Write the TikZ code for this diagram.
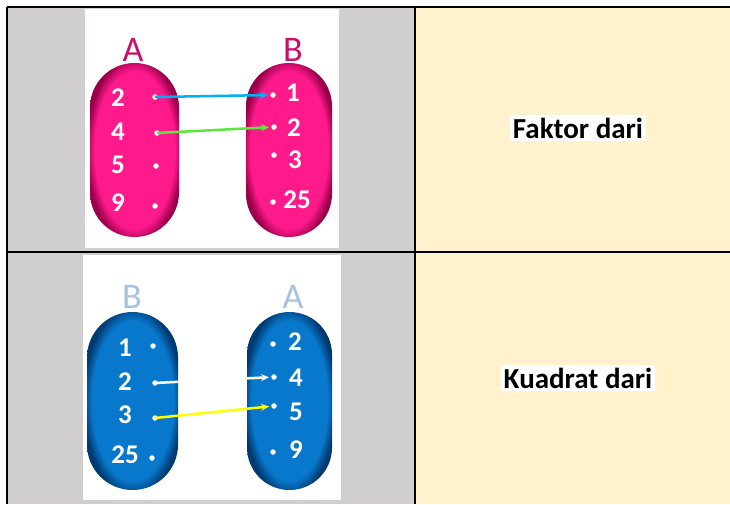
\documentclass[tikz,border=0pt]{standalone}
\usepackage{fontspec}
\setmainfont{Carlito}
\usetikzlibrary{arrows.meta}

\definecolor{cellgray}{HTML}{D0CECE}
\definecolor{cellcream}{HTML}{FFF2CC}
\definecolor{pinkmid}{HTML}{FF1A8C}
\definecolor{pinkedge}{HTML}{9A004A}
\definecolor{pinklabel}{HTML}{C8106A}
\definecolor{bluemid}{HTML}{0878CC}
\definecolor{blueedge}{HTML}{003A70}
\definecolor{bluelabel}{HTML}{A5C2E0}
\definecolor{arrowblue}{HTML}{00B0F0}
\definecolor{arrowgreen}{HTML}{5CE63C}
\definecolor{arrowyellow}{HTML}{FFFF00}

\pgfdeclareradialshading{pinkpill}{\pgfpoint{0bp}{0bp}}{color(0bp)=(pinkmid); color(22.5bp)=(pinkmid); color(27bp)=(pinkedge); color(30bp)=(pinkedge)}
\pgfdeclareradialshading{bluepill}{\pgfpoint{0bp}{0bp}}{color(0bp)=(bluemid); color(22.5bp)=(bluemid); color(27bp)=(blueedge); color(30bp)=(blueedge)}

\begin{document}
\begin{tikzpicture}[x=1pt, y=-1pt,
    num/.style={text=white, font=\fontsize{27}{27}\selectfont\bfseries, inner sep=0pt},
    dot/.style={circle, fill=white, inner sep=0pt, minimum size=5.5pt},
    pill/.style={rectangle, rounded corners=43.5pt, minimum width=87pt, minimum height=176pt},
    setlabel/.style={font=\fontsize{36}{36}\selectfont, inner sep=0pt},
    relation/.style={fill=white, font=\fontsize{29}{29}\selectfont\bfseries, inner sep=3pt},
    link/.style={line width=2.5pt, -{Stealth[length=8pt, width=7pt]}, shorten >=2pt}]

    %--------------------%
    % Parameters
    %--------------------%
    \def\colsep{415}
    \def\rowsep{252}
    \def\linethic{2pt}

    \useasboundingbox (0,0) rectangle (730,504);

    %--------------------%
    % Cells
    %--------------------%
    \fill[cellgray] (7,7) rectangle (\colsep,504);
    \fill[cellcream] (\colsep,7) rectangle (730,504);
    \fill[white] (85,9) rectangle (339,248);
    \fill[white] (83,255) rectangle (341,500);

    \draw[line width=\linethic] (7,7) -- (730,7);
    \draw[line width=\linethic] (7,\rowsep) -- (730,\rowsep);
    \draw[line width=\linethic] (7,7) -- (7,504);
    \draw[line width=\linethic] (\colsep,7) -- (\colsep,504);

    %--------------------%
    % Faktor dari
    %--------------------%
    \node[pill, shading=pinkpill, minimum width=89pt, minimum height=174pt, rounded corners=44.5pt] (setA) at (134.5,150) {};
    \node[pill, shading=pinkpill, minimum width=86pt, minimum height=174pt, rounded corners=43pt] (setB) at (289,150) {};
    \node[setlabel, text=pinklabel] (labA) at (133,50) {A};
    \node[setlabel, text=pinklabel] (labB) at (293,50) {B};

    \node[num] (a2) at (118,98) {2};
    \node[num] (a4) at (118,132) {4};
    \node[num] (a5) at (118,165) {5};
    \node[num] (a9) at (118,203) {9};
    \node[dot] (da2) at (155,97) {};
    \node[dot] (da4) at (157,133) {};
    \node[dot] (da5) at (156,166) {};
    \node[dot] (da9) at (155,206) {};

    \node[num] (b1) at (293,93) {1};
    \node[num] (b2) at (294,128) {2};
    \node[num] (b3) at (295,160) {3};
    \node[num] (b25) at (297,200) {25};
    \node[dot] (db1) at (273,95) {};
    \node[dot] (db2) at (274,127) {};
    \node[dot] (db3) at (274,155) {};
    \node[dot] (db25) at (273,202) {};

    \draw[link, arrowblue] (da2.center) -- (db1);
    \draw[link, arrowgreen] (da4.center) -- (db2);

    \node[relation] (faktor) at (578,128) {Faktor dari};

    %--------------------%
    % Kuadrat dari
    %--------------------%
    \node[pill, shading=bluepill, minimum width=91pt, minimum height=178pt, rounded corners=45.5pt] (setB2) at (132.5,401) {};
    \node[pill, shading=bluepill, minimum width=85pt, minimum height=178pt, rounded corners=42.5pt] (setA2) at (289.5,401) {};
    \node[setlabel, text=bluelabel] (labB2) at (132,297) {B};
    \node[setlabel, text=bluelabel] (labA2) at (293,297) {A};

    \node[num] (q1) at (125,348) {1};
    \node[num] (q2) at (125,382) {2};
    \node[num] (q3) at (125,415) {3};
    \node[num] (q25) at (125,455) {25};
    \node[dot] (dq1) at (153,346) {};
    \node[dot] (dq2) at (155,383) {};
    \node[dot] (dq3) at (155,418) {};
    \node[dot] (dq25) at (152,458) {};

    \node[num] (r2) at (295,342) {2};
    \node[num] (r4) at (296,378) {4};
    \node[num] (r5) at (296,412) {5};
    \node[num] (r9) at (296,450) {9};
    \node[dot] (dr2) at (273,344) {};
    \node[dot] (dr4) at (274,377) {};
    \node[dot] (dr5) at (274,406) {};
    \node[dot] (dr9) at (273,452) {};

    \draw[link, white] (dq2.center) -- (dr4);
    \draw[link, arrowyellow] (dq3.center) -- (dr5);

    \node[relation] (kuadrat) at (578,378) {Kuadrat dari};
\end{tikzpicture}
\end{document}
